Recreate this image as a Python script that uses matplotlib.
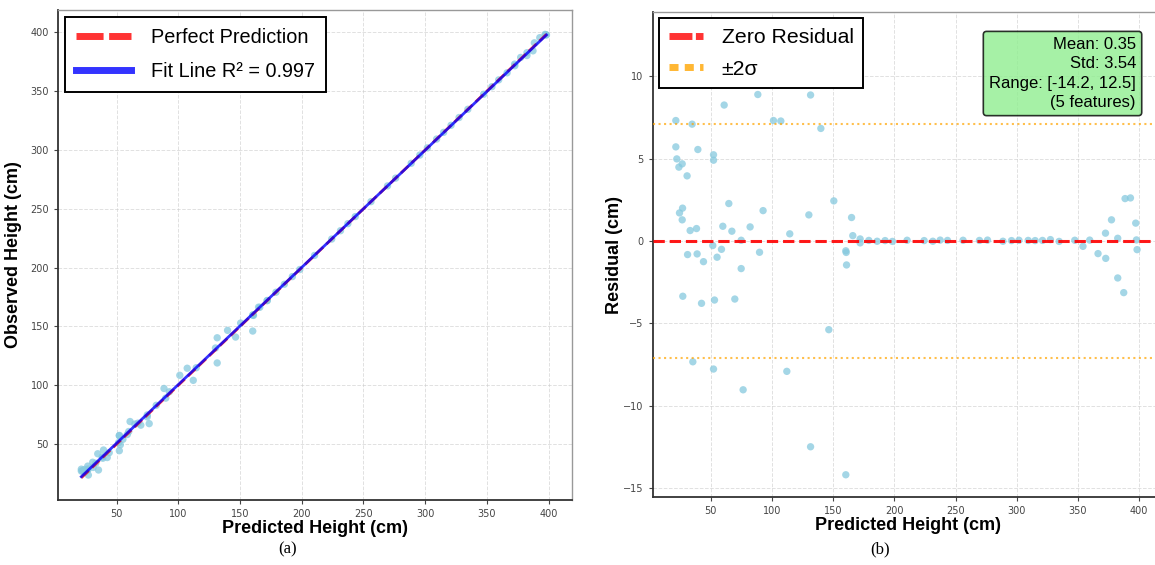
import matplotlib
matplotlib.use("Agg")
import matplotlib.pyplot as plt
import numpy as np

# ---------------- data ----------------
predicted = [21.4, 34.7, 21.4, 22.2, 23.9, 26.6, 30.6, 39.4, 52.2, 52.2,
             60.9, 88.4, 101.2, 107.2, 131.5, 139.9, 150.5, 26.9, 24.4, 26.6,
             33.1, 38.3, 64.7, 59.8, 67.2, 74.8, 82.1, 92.7, 114.5, 130.1,
             31.0, 38.8, 44.0, 51.6, 55.1, 58.7, 74.8, 89.8, 27.1, 42.4,
             53.0, 69.6, 146.4, 35.3, 52.2, 112.1, 76.4, 131.5, 160.3,
             165.0, 166.0, 172.0, 172.0, 160.3, 160.6, 160.9,
             179.1, 185.9, 192.4, 198.4, 210.4, 224.3, 231.4, 237.4, 243.4, 256.1,
             269.5, 276.1, 288.7, 295.7, 301.8, 309.3, 315.0, 321.0, 327.5, 334.6,
             347.4, 359.6,
             354.1, 366.4, 372.7, 372.5, 377.4, 382.5, 382.5, 387.4, 388.5, 392.9,
             397.2, 397.8, 398.3]

observed = [28.7, 41.8, 27.1, 27.2, 28.4, 31.3, 34.6, 45.0, 57.4, 57.1,
            69.2, 97.3, 108.5, 114.5, 140.4, 146.7, 152.9, 28.9, 26.1, 27.9,
            33.7, 39.1, 67.0, 60.7, 67.8, 74.8, 83.0, 94.5, 114.9, 131.7,
            30.2, 38.0, 42.7, 51.3, 54.1, 58.2, 73.1, 89.1, 23.7, 38.6,
            49.4, 66.1, 141.0, 28.0, 44.4, 104.2, 67.4, 119.0, 146.1,
            166.4, 166.3, 172.1, 171.9, 159.7, 159.9, 159.4,
            179.1, 185.9, 192.4, 198.4, 210.4, 224.3, 231.4, 237.4, 243.4, 256.1,
            269.5, 276.1, 288.7, 295.7, 301.8, 309.3, 315.0, 321.0, 327.6, 334.6,
            347.4, 359.6,
            353.8, 365.6, 371.6, 373.0, 378.7, 382.7, 380.3, 384.3, 391.1, 395.5,
            398.3, 397.9, 397.8]

residual = [7.31, 7.09, 5.71, 4.98, 4.48, 4.68, 3.95, 5.55, 5.23, 4.90,
            8.25, 8.89, 7.31, 7.28, 8.86, 6.83, 2.43, 1.99, 1.70, 1.28,
            0.63, 0.75, 2.27, 0.89, 0.59, 0.04, 0.85, 1.84, 0.43, 1.58,
            -0.83, -0.79, -1.26, -0.28, -0.99, -0.51, -1.68, -0.69, -3.36, -3.79,
            -3.59, -3.53, -5.39, -7.34, -7.78, -7.92, -9.04, -12.5, -14.2,
            1.42, 0.32, 0.12, -0.12, -0.60, -0.70, -1.46,
            0.03, -0.02, 0.02, -0.03, 0.04, 0.02, -0.02, 0.05, 0.03, 0.04,
            0.03, 0.05, -0.02, 0.02, 0.04, 0.03, 0.02, 0.03, 0.08, -0.03,
            0.04, 0.05,
            -0.33, -0.77, -1.06, 0.47, 1.28, 0.16, -2.25, -3.14, 2.57, 2.61,
            1.08, 0.06, -0.53]

r2_text = "0.997"
sigma = 3.54
stats_lines = ["Mean: 0.35", "Std: 3.54", "Range: [-14.2, 12.5]", "(5 features)"]
ticks_x = [50, 100, 150, 200, 250, 300, 350, 400]
ticks_y_left = [50, 100, 150, 200, 250, 300, 350, 400]
ticks_y_right = [-15, -10, -5, 0, 5, 10]

# ---------------- figure ----------------
W, H = 1155, 565
fig = plt.figure(figsize=(W / 100, H / 100), dpi=100)

def px_axes(l, t, r, b):
    return fig.add_axes([l / W, 1 - b / H, (r - l) / W, (b - t) / H])

ax1 = px_axes(58, 10, 572, 500)
ax2 = px_axes(652.7, 12, 1162.4, 497)

pt_color = "#86c9de"
sans = ["Liberation Sans", "DejaVu Sans"]

def style_axes(ax):
    ax.grid(True, linestyle="--", color="#cccccc", alpha=0.6, linewidth=0.7)
    ax.set_axisbelow(True)
    for s in ["left", "bottom"]:
        ax.spines[s].set_color("#333333")
        ax.spines[s].set_linewidth(1.3)
    for s in ["top", "right"]:
        ax.spines[s].set_color("#999999")
        ax.spines[s].set_linewidth(1.0)
    ax.tick_params(labelsize=7, colors="#444444", length=3, width=0.8)

# ----- (a) observed vs predicted -----
pred = np.array(predicted)
obs = np.array(observed)
ax1.scatter(pred, obs, s=28, color=pt_color, alpha=0.75, edgecolors="none", zorder=2)
lo, hi = pred.min(), pred.max()
l_perf, = ax1.plot([lo, hi], [lo, hi], color="red", linestyle="--", linewidth=2,
                   alpha=0.8, label="Perfect Prediction", zorder=3)
k, c = np.polyfit(pred, obs, 1)
xx = np.array([lo, hi])
l_fit, = ax1.plot(xx, k * xx + c, color="blue", linewidth=2, alpha=0.8,
                  label="Fit Line R\u00b2 = " + r2_text, zorder=4)
ax1.set_xlim(2.5, 419)
ax1.set_ylim(2.5, 419)
ax1.set_xticks(ticks_x)
ax1.set_yticks(ticks_y_left)
style_axes(ax1)
ax1.set_xlabel("Predicted Height (cm)", fontsize=13, fontweight="bold", family=sans, labelpad=1)
ax1.set_ylabel("Observed Height (cm)", fontsize=13, fontweight="bold", family=sans, labelpad=6)
leg1 = ax1.legend(loc="upper left", prop={"family": sans, "size": 14.3},
                  handlelength=2.8, handletextpad=1.0, labelspacing=0.75,
                  borderpad=0.55, borderaxespad=0.35, fancybox=False,
                  edgecolor="black", framealpha=1)
leg1.get_frame().set_linewidth(1.4)
for h in leg1.legend_handles:
    h.set_linewidth(5)
leg1.legend_handles[0].set_linestyle((0, (3.9, 0.8)))

# ----- (b) residuals -----
res = np.array(residual)
ax2.scatter(pred, res, s=28, color=pt_color, alpha=0.75, edgecolors="none", zorder=2)
l_zero = ax2.axhline(0, color="red", linestyle="--", linewidth=2.2, alpha=0.9,
                     label="Zero Residual", zorder=3)
l_sig = ax2.axhline(2 * sigma, color="orange", linestyle=":", linewidth=1.5, alpha=0.7,
                    label="\u00b12\u03c3", zorder=3)
ax2.axhline(-2 * sigma, color="orange", linestyle=":", linewidth=1.5, alpha=0.7, zorder=3)
ax2.set_xlim(2.5, 419)
ax2.set_ylim(-15.55, 13.9)
ax2.set_xticks(ticks_x)
ax2.set_yticks(ticks_y_right)
style_axes(ax2)
ax2.set_xlabel("Predicted Height (cm)", fontsize=13, fontweight="bold", family=sans, labelpad=1)
ax2.set_ylabel("Residual (cm)", fontsize=13, fontweight="bold", family=sans, labelpad=0)
leg2 = ax2.legend(loc="upper left", prop={"family": sans, "size": 15.3},
                  handlelength=1.6, handletextpad=0.9, labelspacing=0.6,
                  borderpad=0.45, borderaxespad=0.3, fancybox=False,
                  edgecolor="black", framealpha=1)
leg2.get_frame().set_linewidth(1.4)
for h in leg2.legend_handles:
    h.set_linewidth(5)
    h.set_alpha(0.8)
leg2.legend_handles[0].set_linestyle((0, (3.3, 0.5)))
leg2.legend_handles[1].set_linestyle((0, (1.3, 0.9)))

ax2.text(0.948, 0.948, "\n".join(stats_lines), transform=ax2.transAxes,
         ha="right", va="top", fontsize=12, family=sans, linespacing=1.35,
         bbox=dict(boxstyle="round,pad=0.35,rounding_size=0.2", facecolor="lightgreen",
                   alpha=0.8, edgecolor="black", linewidth=1.2), zorder=6)

# captions
fig.text(288 / W, 1 - 549 / H, "(a)", ha="center", va="center", fontsize=12,
         family=["Liberation Serif", "DejaVu Serif"])
fig.text(880 / W, 1 - 549 / H, "(b)", ha="center", va="center", fontsize=12,
         family=["Liberation Serif", "DejaVu Serif"])

fig.savefig("out.png", dpi=100)
